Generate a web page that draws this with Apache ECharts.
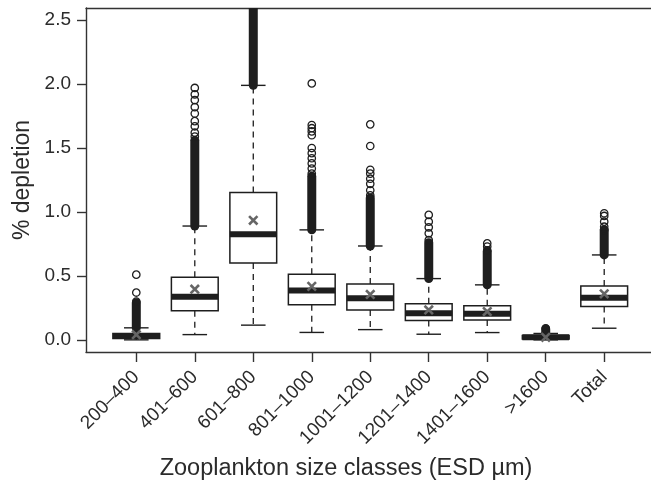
<!DOCTYPE html>
<html>
<head>
<meta charset="utf-8">
<script src="https://cdn.jsdelivr.net/npm/echarts@6/dist/echarts.min.js"></script>
<style>
html,body{margin:0;padding:0;background:#fff;}
#chart{width:651px;height:484px;}
</style>
</head>
<body>
<div id="chart"></div>
<script>
// ---- data ----
const categories = ['200–400','401–600','601–800','801–1000','1001–1200','1201–1400','1401–1600','>1600','Total'];
const lowerWhisker = [0.000, 0.041, 0.115, 0.058, 0.080, 0.044, 0.057, 0.000, 0.091];
const q1           = [0.010, 0.227, 0.600, 0.275, 0.234, 0.151, 0.156, 0.006, 0.260];
const median       = [0.030, 0.338, 0.826, 0.385, 0.326, 0.208, 0.205, 0.020, 0.330];
const q3           = [0.050, 0.490, 1.153, 0.513, 0.436, 0.283, 0.267, 0.034, 0.422];
const upperWhisker = [0.094, 0.890, 1.990, 0.860, 0.734, 0.479, 0.430, 0.050, 0.664];
const means        = [0.040, 0.396, 0.935, 0.418, 0.355, 0.234, 0.221, 0.020, 0.360];
// ranges where outlier circles overlap into a solid column
const denseOutlierLow  = [0.094, 0.890, 1.990, 0.860, 0.734, 0.479, 0.430, 0.050, 0.664];
const denseOutlierHigh = [0.290, 1.560, 2.700, 1.280, 1.110, 0.760, 0.690, 0.085, 0.860];
// separately visible outlier circles
const outliers1 = [0.30, 0.37, 0.51];
const outliers2 = [1.59, 1.62, 1.67, 1.71, 1.77, 1.82, 1.875, 1.92, 1.97];
const outliers3 = [];
const outliers4 = [1.30, 1.34, 1.38, 1.42, 1.46, 1.50, 1.60, 1.63, 1.655, 1.68, 2.005];
const outliers5 = [1.13, 1.17, 1.22, 1.26, 1.30, 1.33, 1.516, 1.685];
const outliers6 = [0.78, 0.833, 0.88, 0.924, 0.977];
const outliers7 = [0.70, 0.73, 0.755];
const outliers8 = [0.09];
const outliers9 = [0.86, 0.885, 0.924, 0.969, 0.99];
const yTickValues = [0, 0.5, 1.0, 1.5, 2.0, 2.5];
const yTickLabels = ['0.0', '0.5', '1.0', '1.5', '2.0', '2.5'];
const xTitle = 'Zooplankton size classes (ESD µm)';
const yTitle = '% depletion';

// ---- build ----
const FONT = '"Liberation Sans", Arial, Helvetica, sans-serif';
const TXT = '#2b2b2b';
const xPositions = categories.map((c, i) => i + 1);
const boxData = categories.map((c, i) => [i + 1, lowerWhisker[i], q1[i], median[i], q3[i], upperWhisker[i]]);
const meanData = categories.map((c, i) => [i + 1, means[i]]);
const denseData = categories.map((c, i) => [i + 1, denseOutlierLow[i], denseOutlierHigh[i]]);
const allOut = [outliers1, outliers2, outliers3, outliers4, outliers5, outliers6, outliers7, outliers8, outliers9];
const outlierData = [];
allOut.forEach((arr, i) => arr.forEach(v => outlierData.push([i + 1, v])));

const BOXW = 0.8;      // box width in axis units
const STAPLE = 0.42;   // whisker cap width in axis units

function renderBox(params, api) {
  const x = api.value(0);
  const lw = api.coord([x, api.value(1)]);
  const b1 = api.coord([x, api.value(2)]);
  const md = api.coord([x, api.value(3)]);
  const b3 = api.coord([x, api.value(4)]);
  const uw = api.coord([x, api.value(5)]);
  const half = api.size([BOXW, 0])[0] / 2;
  const sh = api.size([STAPLE, 0])[0] / 2;
  const cx = lw[0];
  const black = '#1e1e1e';
  return {
    type: 'group',
    children: [
      {type: 'line', shape: {x1: cx, y1: b1[1], x2: cx, y2: lw[1]}, style: {stroke: black, lineWidth: 1.3, lineDash: [6, 5]}},
      {type: 'line', shape: {x1: cx, y1: b3[1], x2: cx, y2: uw[1]}, style: {stroke: black, lineWidth: 1.3, lineDash: [6, 5]}},
      {type: 'line', shape: {x1: cx - sh, y1: lw[1], x2: cx + sh, y2: lw[1]}, style: {stroke: black, lineWidth: 1.4}},
      {type: 'line', shape: {x1: cx - sh, y1: uw[1], x2: cx + sh, y2: uw[1]}, style: {stroke: black, lineWidth: 1.4}},
      {type: 'rect', shape: {x: cx - half, y: b3[1], width: half * 2, height: b1[1] - b3[1]}, style: {fill: '#fff', stroke: black, lineWidth: 1.5}},
      {type: 'line', shape: {x1: cx - half, y1: md[1], x2: cx + half, y2: md[1]}, style: {stroke: black, lineWidth: 6}}
    ]
  };
}

function renderDense(params, api) {
  const x = api.value(0);
  const a = api.coord([x, api.value(1)]);
  const b = api.coord([x, api.value(2)]);
  return {
    type: 'line',
    shape: {x1: a[0], y1: a[1], x2: b[0], y2: b[1]},
    style: {stroke: '#1e1e1e', lineWidth: 9, lineCap: 'round'}
  };
}

function renderMean(params, api) {
  const p = api.coord([api.value(0), api.value(1)]);
  const s = 4.2;
  const st = {stroke: '#666', lineWidth: 2.6};
  return {
    type: 'group',
    children: [
      {type: 'line', shape: {x1: p[0] - s, y1: p[1] - s, x2: p[0] + s, y2: p[1] + s}, style: st},
      {type: 'line', shape: {x1: p[0] - s, y1: p[1] + s, x2: p[0] + s, y2: p[1] - s}, style: st}
    ]
  };
}

const axisLineStyle = {color: '#333', width: 1.4};
const chart = echarts.init(document.getElementById('chart'), null, {renderer: 'canvas'});
chart.setOption({
  animation: false,
  backgroundColor: '#fff',
  grid: {left: 86, top: 8, right: 0, bottom: 132, containLabel: false, outerBoundsMode: 'none'},
  xAxis: [{
    type: 'value', min: 0.14, max: 9.8, position: 'bottom',
    axisLine: {show: true, onZero: false, lineStyle: axisLineStyle},
    axisTick: {show: true, length: 10, lineStyle: axisLineStyle, customValues: xPositions},
    axisLabel: {show: true, customValues: xPositions, formatter: v => categories[Math.round(v) - 1],
      rotate: 45, fontSize: 19, color: TXT, fontFamily: FONT, margin: 22},
    splitLine: {show: false}
  }, {
    type: 'value', min: 0.14, max: 9.8, position: 'top',
    axisLine: {show: true, onZero: false, lineStyle: axisLineStyle},
    axisTick: {show: false}, axisLabel: {show: false}, splitLine: {show: false}
  }],
  yAxis: {
    type: 'value', min: -0.095, max: 2.595,
    axisLine: {show: true, onZero: false, lineStyle: axisLineStyle},
    axisTick: {show: true, length: 9, lineStyle: axisLineStyle, customValues: yTickValues},
    axisLabel: {show: true, customValues: yTickValues,
      formatter: v => yTickLabels[yTickValues.findIndex(t => Math.abs(t - v) < 1e-6)],
      fontSize: 19, color: TXT, fontFamily: FONT, margin: 15},
    splitLine: {show: false},
    name: yTitle, nameLocation: 'middle', nameGap: 52,
    nameTextStyle: {fontSize: 23, color: TXT, fontFamily: FONT}
  },
  graphic: [{
    type: 'text', x: 346, y: 469,
    style: {text: xTitle, fontSize: 23.5, fill: TXT, fontFamily: FONT, align: 'center', verticalAlign: 'middle'}
  }],
  series: [
    {type: 'custom', name: 'box', renderItem: renderBox, data: boxData, clip: true, z: 2,
      encode: {x: 0, y: [1, 2, 3, 4, 5]}},
    {type: 'custom', name: 'dense', renderItem: renderDense, data: denseData, clip: true, z: 3,
      encode: {x: 0, y: [1, 2]}},
    {type: 'scatter', name: 'outliers', data: outlierData, symbol: 'circle', symbolSize: 7.4, z: 4,
      itemStyle: {color: 'rgba(0,0,0,0)', borderColor: '#1e1e1e', borderWidth: 1.3, opacity: 1}},
    {type: 'custom', name: 'mean', renderItem: renderMean, data: meanData, clip: true, z: 5,
      encode: {x: 0, y: 1}}
  ]
});
</script>
</body>
</html>
